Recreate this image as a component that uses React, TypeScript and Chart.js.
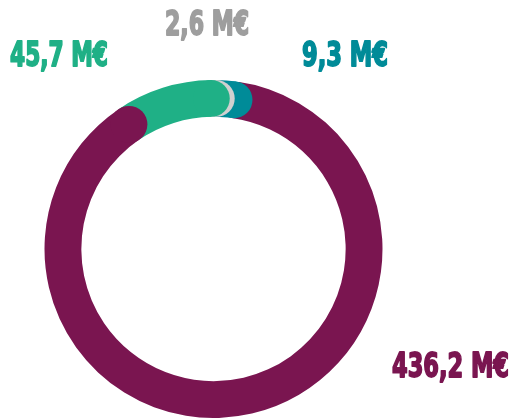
import React, { useEffect, useRef } from 'react';
import { Chart, registerables } from 'chart.js';

Chart.register(...registerables);

// Data (clockwise from the start of the large segment)
const values = [436.2, 45.7, 2.6, 9.3];
const labels = values.map((v) => v.toFixed(1).replace('.', ',') + ' M€');
const ringColors = ['#7a1550', '#1fb086', '#d0d0d0', '#008b98'];
const textColors = ['#7a1550', '#1fb086', '#9e9e9e', '#008b98'];

// Label placement (left x, baseline y, rendered width)
const labelBoxes = [
  { x: 392, y: 377, w: 117 },
  { x: 10, y: 66, w: 98 },
  { x: 165, y: 35, w: 84 },
  { x: 302, y: 66, w: 86 },
];

const roundCapsPlugin = {
  id: 'roundCaps',
  afterDatasetsDraw(chart: any) {
    const meta = chart.getDatasetMeta(0);
    const ctx = chart.ctx;
    ctx.save();
    for (let i = meta.data.length - 1; i >= 0; i--) {
      const arc = meta.data[i];
      const p = arc.getProps(['x', 'y', 'endAngle', 'innerRadius', 'outerRadius'], true);
      const mid = (p.innerRadius + p.outerRadius) / 2;
      const r = (p.outerRadius - p.innerRadius) / 2;
      ctx.beginPath();
      ctx.arc(p.x + mid * Math.cos(p.endAngle), p.y + mid * Math.sin(p.endAngle), r, 0, Math.PI * 2);
      ctx.fillStyle = arc.options.backgroundColor;
      ctx.fill();
    }
    ctx.restore();
  },
};

const labelPlugin = {
  id: 'valueLabels',
  afterDraw(chart: any) {
    const ctx = chart.ctx;
    ctx.save();
    ctx.font = 'bold 34px "Liberation Sans Narrow", "DejaVu Sans Condensed", "Liberation Sans", sans-serif';
    ctx.textBaseline = 'alphabetic';
    ctx.textAlign = 'left';
    labels.forEach((text, i) => {
      const b = labelBoxes[i];
      const natural = ctx.measureText(text).width;
      ctx.save();
      ctx.translate(b.x, b.y);
      ctx.scale(b.w / natural, 1);
      ctx.fillStyle = textColors[i];
      ctx.strokeStyle = textColors[i];
      ctx.lineWidth = 1.8;
      ctx.lineJoin = 'round';
      ctx.fillText(text, 0, 0);
      ctx.strokeText(text, 0, 0);
      ctx.restore();
    });
    ctx.restore();
  },
};

export default function App() {
  const ref = useRef<HTMLCanvasElement>(null);
  useEffect(() => {
    if (!ref.current) return;
    const chart = new Chart(ref.current, {
      type: 'doughnut',
      data: {
        labels,
        datasets: [
          {
            data: values,
            backgroundColor: ringColors,
            borderWidth: 0,
          },
        ],
      },
      options: {
        responsive: false,
        animation: false,
        rotation: 7.85,
        cutout: '78.2%',
        layout: { padding: { left: 44.5, right: 131.5, top: 80, bottom: 0 } },
        plugins: {
          legend: { display: false },
          tooltip: { enabled: false },
        },
      },
      plugins: [roundCapsPlugin, labelPlugin],
    });
    return () => chart.destroy();
  }, []);
  return (
    <div style={{ position: 'absolute', left: 0, top: 0, width: 514, height: 418, background: '#fff' }}>
      <canvas ref={ref} width={514} height={418} style={{ display: 'block' }} />
    </div>
  );
}
